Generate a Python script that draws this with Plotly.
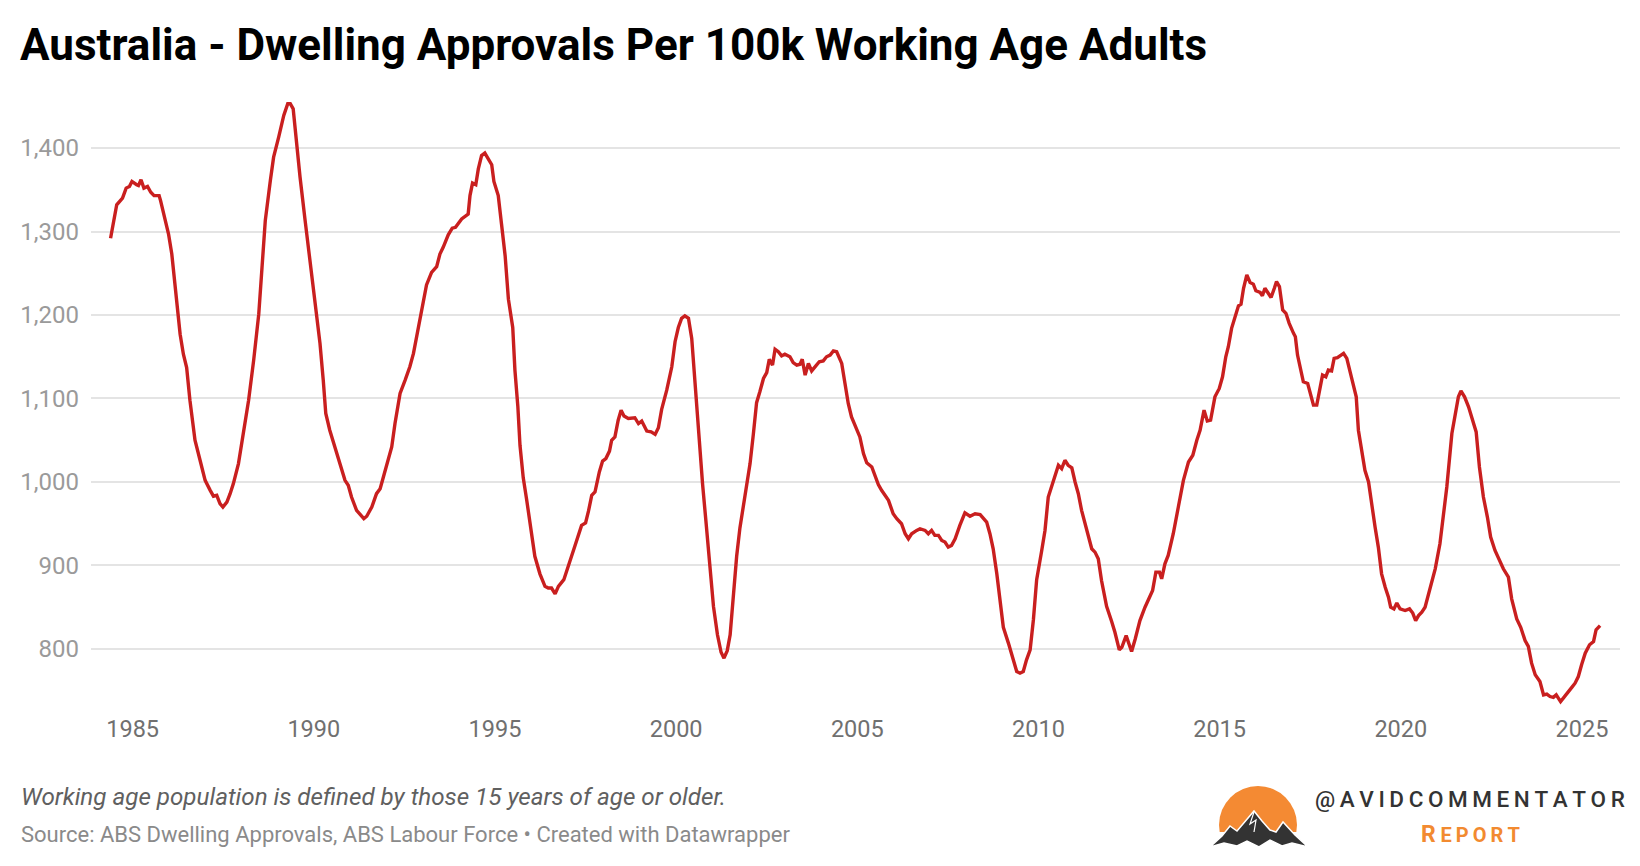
import plotly.graph_objects as go

# ---------------- data ----------------
years = [
    1984.39, 1984.56, 1984.72, 1984.82, 1984.91, 1984.98, 1985.11, 1985.16, 1985.23, 1985.31,
    1985.41, 1985.50, 1985.59, 1985.73, 1985.77, 1985.89, 1985.99, 1986.08, 1986.17, 1986.24,
    1986.31, 1986.40, 1986.49, 1986.58, 1986.72, 1986.86, 1987.00, 1987.14, 1987.23, 1987.32,
    1987.41, 1987.49, 1987.60, 1987.69, 1987.78, 1987.92, 1988.06, 1988.20, 1988.34, 1988.48,
    1988.57, 1988.66, 1988.80, 1988.89, 1989.03, 1989.17, 1989.28, 1989.35, 1989.43, 1989.48,
    1989.62, 1989.76, 1989.89, 1990.03, 1990.17, 1990.26, 1990.33, 1990.44, 1990.58, 1990.72,
    1990.86, 1990.95, 1991.04, 1991.18, 1991.32, 1991.38, 1991.46, 1991.60, 1991.73, 1991.83,
    1991.92, 1992.06, 1992.15, 1992.24, 1992.38, 1992.52, 1992.65, 1992.75, 1992.89, 1992.98,
    1993.11, 1993.25, 1993.39, 1993.48, 1993.57, 1993.71, 1993.82, 1993.91, 1993.99, 1994.08,
    1994.26, 1994.31, 1994.38, 1994.47, 1994.54, 1994.63, 1994.72, 1994.82, 1994.91, 1994.97,
    1995.09, 1995.18, 1995.28, 1995.37, 1995.49, 1995.55, 1995.63, 1995.69, 1995.78, 1995.87,
    1995.97, 1996.10, 1996.24, 1996.38, 1996.47, 1996.56, 1996.66, 1996.75, 1996.90, 1997.02,
    1997.21, 1997.39, 1997.50, 1997.58, 1997.67, 1997.76, 1997.88, 1997.97, 1998.06, 1998.16,
    1998.22, 1998.31, 1998.40, 1998.48, 1998.56, 1998.68, 1998.86, 1998.96, 1999.05, 1999.19,
    1999.31, 1999.42, 1999.51, 1999.60, 1999.74, 1999.88, 1999.97, 2000.06, 2000.15, 2000.24,
    2000.34, 2000.43, 2000.52, 2000.61, 2000.73, 2000.82, 2000.93, 2001.03, 2001.14, 2001.24,
    2001.32, 2001.41, 2001.49, 2001.58, 2001.67, 2001.76, 2001.90, 2002.04, 2002.13, 2002.22,
    2002.31, 2002.41, 2002.50, 2002.57, 2002.66, 2002.73, 2002.82, 2002.91, 2003.00, 2003.14,
    2003.23, 2003.33, 2003.42, 2003.48, 2003.56, 2003.65, 2003.74, 2003.83, 2003.95, 2004.06,
    2004.15, 2004.25, 2004.34, 2004.43, 2004.57, 2004.66, 2004.75, 2004.84, 2004.98, 2005.07,
    2005.17, 2005.26, 2005.40, 2005.49, 2005.58, 2005.67, 2005.76, 2005.86, 2005.99, 2006.09,
    2006.22, 2006.32, 2006.41, 2006.50, 2006.64, 2006.73, 2006.87, 2006.96, 2007.05, 2007.14,
    2007.24, 2007.33, 2007.42, 2007.51, 2007.60, 2007.70, 2007.83, 2007.97, 2008.11, 2008.25,
    2008.39, 2008.57, 2008.66, 2008.75, 2008.85, 2008.94, 2009.03, 2009.17, 2009.31, 2009.40,
    2009.49, 2009.58, 2009.67, 2009.77, 2009.86, 2009.95, 2010.09, 2010.18, 2010.27, 2010.41,
    2010.55, 2010.64, 2010.73, 2010.82, 2010.92, 2011.01, 2011.10, 2011.19, 2011.33, 2011.47,
    2011.56, 2011.65, 2011.74, 2011.88, 2012.02, 2012.11, 2012.23, 2012.30, 2012.42, 2012.51,
    2012.57, 2012.67, 2012.80, 2012.94, 2013.03, 2013.15, 2013.24, 2013.34, 2013.40, 2013.49,
    2013.58, 2013.72, 2013.86, 2014.00, 2014.14, 2014.26, 2014.37, 2014.46, 2014.57, 2014.66,
    2014.75, 2014.87, 2014.99, 2015.08, 2015.17, 2015.24, 2015.33, 2015.43, 2015.52, 2015.59,
    2015.66, 2015.75, 2015.84, 2015.93, 2016.00, 2016.12, 2016.18, 2016.25, 2016.35, 2016.42,
    2016.51, 2016.57, 2016.65, 2016.74, 2016.83, 2016.92, 2017.04, 2017.09, 2017.15, 2017.24,
    2017.31, 2017.43, 2017.52, 2017.59, 2017.68, 2017.75, 2017.84, 2017.93, 2018.00, 2018.09,
    2018.16, 2018.25, 2018.34, 2018.42, 2018.51, 2018.60, 2018.69, 2018.77, 2018.83, 2018.92,
    2019.01, 2019.11, 2019.20, 2019.29, 2019.38, 2019.47, 2019.57, 2019.66, 2019.72, 2019.81,
    2019.89, 2019.98, 2020.12, 2020.24, 2020.33, 2020.41, 2020.49, 2020.58, 2020.67, 2020.76,
    2020.85, 2020.95, 2021.08, 2021.18, 2021.27, 2021.41, 2021.50, 2021.59, 2021.66, 2021.76,
    2021.87, 2021.96, 2022.08, 2022.17, 2022.28, 2022.39, 2022.48, 2022.60, 2022.72, 2022.83,
    2022.97, 2023.06, 2023.20, 2023.31, 2023.43, 2023.52, 2023.61, 2023.71, 2023.84, 2023.94,
    2024.03, 2024.12, 2024.21, 2024.29, 2024.41, 2024.51, 2024.63, 2024.72, 2024.81, 2024.90,
    2024.99, 2025.09, 2025.21, 2025.32, 2025.39, 2025.50,
]

approvals = [
    1292, 1332, 1340, 1352, 1354, 1360, 1356, 1355, 1362, 1352,
    1354, 1347, 1343, 1343, 1337, 1313, 1297, 1273, 1233, 1201,
    1177, 1153, 1137, 1098, 1050, 1026, 1002, 990, 983, 984,
    974, 970, 976, 986, 998, 1022, 1058, 1098, 1146, 1201,
    1257, 1313, 1361, 1389, 1413, 1439, 1453, 1453, 1447, 1425,
    1365, 1313, 1265, 1218, 1166, 1122, 1082, 1062, 1042, 1022,
    1002, 996, 982, 966, 958, 956, 959, 970, 986, 992,
    1006, 1026, 1042, 1070, 1106, 1122, 1138, 1154, 1186, 1206,
    1236, 1251, 1258, 1273, 1281, 1296, 1304, 1305, 1309, 1315,
    1321, 1343, 1358, 1356, 1375, 1391, 1394, 1387, 1380, 1360,
    1343, 1309, 1271, 1219, 1185, 1134, 1091, 1044, 1005, 980,
    950, 911, 890, 875, 873, 873, 866, 875, 883, 900,
    924, 948, 951, 965, 984, 988, 1012, 1025, 1028, 1037,
    1050, 1054, 1074, 1086, 1079, 1076, 1077, 1070, 1073, 1061,
    1060, 1057, 1065, 1087, 1110, 1138, 1168, 1185, 1196, 1199,
    1196, 1172, 1117, 1057, 997, 954, 898, 851, 817, 796,
    789, 798, 817, 864, 911, 945, 984, 1022, 1057, 1095,
    1108, 1124, 1131, 1147, 1140, 1159, 1156, 1151, 1153, 1150,
    1143, 1140, 1141, 1147, 1128, 1142, 1133, 1138, 1144, 1145,
    1150, 1152, 1157, 1156, 1142, 1118, 1094, 1078, 1062, 1054,
    1034, 1023, 1018, 1008, 997, 990, 984, 978, 962, 956,
    950, 938, 932, 938, 942, 944, 942, 938, 942, 936,
    936, 930, 928, 922, 924, 932, 948, 963, 959, 962,
    961, 952, 938, 920, 890, 858, 826, 807, 787, 773,
    771, 773, 787, 799, 835, 883, 918, 942, 982, 1000,
    1020, 1016, 1026, 1020, 1017, 1000, 986, 966, 944, 920,
    916, 908, 882, 851, 833, 820, 799, 802, 816, 804,
    797, 812, 834, 850, 858, 870, 892, 892, 884, 902,
    912, 938, 970, 1002, 1024, 1032, 1050, 1062, 1086, 1073,
    1074, 1102, 1112, 1126, 1150, 1162, 1184, 1200, 1211, 1213,
    1232, 1248, 1239, 1237, 1229, 1227, 1223, 1232, 1226, 1221,
    1232, 1240, 1234, 1206, 1202, 1190, 1178, 1174, 1152, 1134,
    1120, 1118, 1102, 1092, 1092, 1106, 1128, 1126, 1134, 1133,
    1148, 1149, 1152, 1154, 1148, 1132, 1114, 1102, 1062, 1038,
    1014, 1000, 970, 946, 922, 890, 874, 862, 850, 848,
    855, 848, 846, 848, 843, 834, 840, 844, 850, 864,
    878, 896, 926, 962, 994, 1058, 1078, 1102, 1109, 1102,
    1090, 1076, 1060, 1018, 982, 958, 934, 918, 906, 896,
    886, 860, 836, 826, 810, 803, 783, 769, 761, 745,
    746, 743, 742, 745, 737, 743, 749, 754, 759, 767,
    781, 795, 805, 809, 823, 828,
]

x_ticks = [1985, 1990, 1995, 2000, 2005, 2010, 2015, 2020, 2025]
y_ticks = [800, 900, 1000, 1100, 1200, 1300, 1400]

title_text = "Australia - Dwelling Approvals Per 100k Working Age Adults"
notes_text = "Working age population is defined by those 15 years of age or older."
source_text = "Source: ABS Dwelling Approvals, ABS Labour Force \u2022 Created with Datawrapper"
brand_text = "@AVIDCOMMENTATOR"
brand_sub = "REPORT"

# ---------------- layout geometry ----------------
W, H = 1640, 866
L, R, T, B = 91, 20, 95, 156
PW, PH = W - L - R, H - T - B


def px(x):
    return (x - L) / PW


def py(y):
    return (H - B - y) / PH


FONT = "Roboto, 'Open Sans', Arial, sans-serif"

fig = go.Figure()
fig.add_trace(go.Scatter(
    x=years, y=approvals, mode="lines",
    line=dict(color="#c91f1f", width=3.4),
    hoverinfo="skip", showlegend=False,
))

fig.update_layout(
    width=W, height=H,
    margin=dict(l=L, r=R, t=T, b=B, pad=0),
    paper_bgcolor="white", plot_bgcolor="white",
    font=dict(family=FONT),
    showlegend=False,
    xaxis=dict(
        range=[1983.85, 2026.05], tickvals=x_ticks, ticktext=[str(v) for v in x_ticks],
        showgrid=False, zeroline=False, showline=False, ticks="",
        tickfont=dict(size=23.5, color="#707070", family=FONT),
        ticklabelstandoff=2, fixedrange=True,
    ),
    yaxis=dict(
        range=[726.9, 1463.5], tickvals=y_ticks, tickformat=",",
        showgrid=True, gridcolor="#e4e4e4", gridwidth=1.5,
        zeroline=False, showline=False, ticks="",
        tickfont=dict(size=24, color="#9a9a9a", family=FONT),
        ticklabelstandoff=11, fixedrange=True,
    ),
)

ann = []
ann.append(dict(text=title_text, x=px(18), y=py(45), xref="paper", yref="paper",
                xanchor="left", yanchor="middle", showarrow=False,
                font=dict(size=44, color="#000000", family=FONT, weight="bold")))
ann.append(dict(text=notes_text, x=px(19), y=py(797), xref="paper", yref="paper",
                xanchor="left", yanchor="middle", showarrow=False,
                font=dict(size=24.2, color="#606060", family=FONT, style="italic")))
ann.append(dict(text=source_text, x=px(19), y=py(834), xref="paper", yref="paper",
                xanchor="left", yanchor="middle", showarrow=False,
                font=dict(size=22, color="#8a8a8a", family=FONT)))

spaced_brand = "\u2009".join(list(brand_text))
ann.append(dict(text=spaced_brand, x=px(1313), y=py(799), xref="paper", yref="paper",
                xanchor="left", yanchor="middle", showarrow=False,
                font=dict(size=22.5, color="#333333", family=FONT, weight=500)))
sub = brand_sub[0] + "\u2009" + "<span style='font-size:20px'>" + "\u2009".join(list(brand_sub[1:])) + "</span>"
ann.append(dict(text=sub, x=px(1470), y=py(834), xref="paper", yref="paper",
                xanchor="center", yanchor="middle", showarrow=False,
                font=dict(size=23, color="#f28a30", family=FONT, weight="bold")))

fig.update_layout(annotations=ann)

# ---------------- logo shapes ----------------
cx, cy, r = 1258, 825, 39
shapes = [
    dict(type="circle", xref="paper", yref="paper",
         x0=px(cx - r), x1=px(cx + r), y0=py(cy + r), y1=py(cy - r),
         fillcolor="#f48a33", line=dict(width=0), layer="above"),
    dict(type="rect", xref="paper", yref="paper",
         x0=px(1212), x1=px(1304), y0=py(866), y1=py(832),
         fillcolor="white", line=dict(width=0), layer="above"),
]
mountain = [(1210, 847), (1222, 836), (1230, 826), (1237, 831), (1254, 811), (1262, 821),
            (1270, 830), (1276, 832), (1283, 822), (1295, 835), (1308, 847), (1292, 843),
            (1282, 846), (1270, 840), (1259, 847), (1247, 841), (1237, 846), (1224, 843)]
path = "M " + " L ".join(f"{px(a):.5f},{py(b):.5f}" for a, b in mountain) + " Z"
shapes.append(dict(type="path", xref="paper", yref="paper", path=path,
                   fillcolor="#333333", line=dict(color="white", width=1.5), layer="above"))
snow = [(1254, 812), (1250, 824), (1256, 820), (1254, 832)]
shapes.append(dict(type="path", xref="paper", yref="paper",
                   path="M " + " L ".join(f"{px(a):.5f},{py(b):.5f}" for a, b in snow),
                   line=dict(color="white", width=1.2), layer="above"))
fig.update_layout(shapes=shapes)

fig.write_html("out.html", config={"displayModeBar": False},
               post_script="document.body.style.margin='0px';document.body.style.overflow='hidden';")
